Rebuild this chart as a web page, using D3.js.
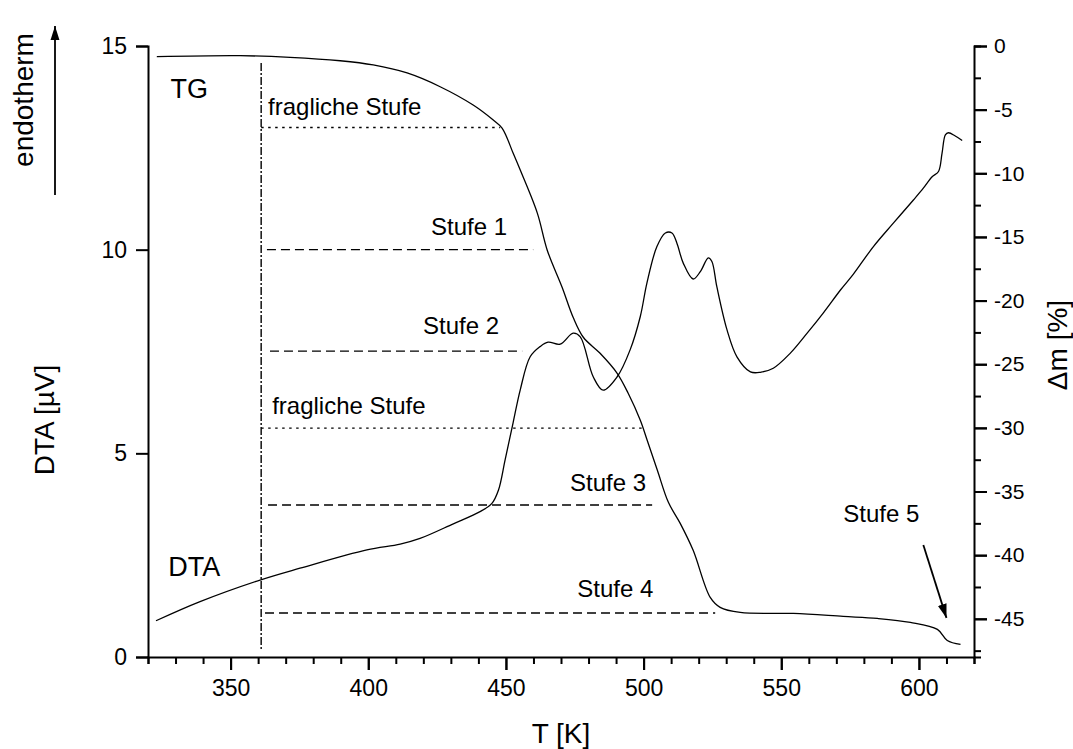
<!DOCTYPE html>
<html><head><meta charset="utf-8">
<script src="https://cdn.jsdelivr.net/npm/d3@7"></script>
<style>
body{margin:0;background:#fff;}
text{font-family:"Liberation Sans",Arial,sans-serif;fill:#000;}
</style></head>
<body><svg id="c" width="1073" height="749"></svg>
<script>
// TG curve: temperature [K] and mass change [%] (right axis)
const tgT = [323.2,353.4,371.6,389.8,401.8,414.1,426.1,438.1,445.4,448.6,452.6,455.2,461.4,465.0,470.4,474.4,478.1,484.2,490.4,494.4,498.8,501.3,505.0,509.0,513.3,518.0,524.2,527.8,535.1,554.4,572.5,584.9,596.9,606.7,610.3,615.1];
const tgM = [-0.84,-0.76,-0.89,-1.16,-1.49,-2.12,-3.20,-4.64,-5.82,-6.45,-8.41,-9.75,-13.13,-16.04,-18.95,-21.31,-22.88,-24.14,-25.71,-27.28,-29.40,-30.97,-33.33,-35.85,-37.50,-39.62,-43.32,-44.10,-44.50,-44.58,-44.81,-44.97,-45.28,-45.83,-46.70,-47.01];
// DTA curve: temperature [K] and signal [µV] (left axis)
const dtaT = [322.9,338.9,360.7,375.2,399.5,411.6,418.8,430.9,440.6,444.9,447.3,449.7,452.6,455.2,458.8,462.4,465.3,469.7,474.4,477.0,481.7,485.3,490.4,495.1,498.8,501.2,504.8,507.9,510.3,512.1,514.4,518.0,520.6,523.5,524.8,526.6,530.3,533.9,538.8,542.4,547.1,553.3,559.4,565.3,571.5,576.2,583.4,590.7,598.0,601.6,604.8,607.1,608.4,609.6,610.7,613.2,615.7];
const dtaV = [0.89,1.36,1.89,2.18,2.63,2.77,2.91,3.27,3.57,3.77,4.10,4.84,5.75,6.56,7.37,7.62,7.73,7.68,7.95,7.86,6.88,6.55,6.88,7.54,8.36,9.18,10.07,10.41,10.41,10.16,9.67,9.28,9.46,9.80,9.71,9.09,8.03,7.37,7.00,6.99,7.09,7.46,7.95,8.45,9.01,9.40,10.07,10.65,11.22,11.51,11.79,11.92,12.37,12.82,12.87,12.79,12.68];
// step reference lines (left-axis units)
const stepLevel = [13.0, 10.0, 7.51, 5.62, 3.73, 1.08];
const stepStart = [361.1, 363.2, 364.3, 361.1, 363.6, 362.5];
const stepEnd   = [447.9, 459.9, 455.9, 499.5, 503.1, 526.0];
const stepStyle = ["dot","dash","dash","dot","dash","dash"];
// annotation labels (T, left-axis value)
const labelText = ["TG","fragliche Stufe","Stufe 1","Stufe 2","fragliche Stufe","Stufe 3","Stufe 4","Stufe 5","DTA"];
const labelT    = [328.2, 363.6, 422.8, 419.9, 365.1, 473.3, 475.9, 572.5, 327.4];
const labelV    = [13.72, 13.31, 10.36, 7.93, 5.97, 4.08, 1.47, 3.31, 1.99];
const labelSize = [27,24,24,24,24,24,24,24,27];
// vertical marker and arrow
const markerT = 361.1, markerV = [0.15, 14.58];
const arrowT = [601.6, 610.0], arrowV = [2.75, 0.96];
// ticks
const xMajor = [350,400,450,500,550,600];
const yLeftTicks = [0,5,10,15];
const yRightMajor = [0,-5,-10,-15,-20,-25,-30,-35,-40,-45];

const svg = d3.select("#c");
const x = d3.scaleLinear().domain([320,620]).range([148,974]);
const yL = d3.scaleLinear().domain([0,15]).range([657,46]);
const yR = d3.scaleLinear().domain([-48,0]).range([657,46]);

svg.append("defs").append("marker").attr("id","ah").attr("viewBox","0 0 10 10")
  .attr("refX",10).attr("refY",5).attr("markerWidth",14).attr("markerHeight",14)
  .attr("markerUnits","userSpaceOnUse").attr("orient","auto")
  .append("path").attr("d","M0,1.8L10,5L0,8.2Z").attr("fill","#000");

// Axes
const font = '"Liberation Sans",Arial,sans-serif';
const bx = svg.append("g").attr("transform","translate(0,657)")
  .call(d3.axisBottom(x).tickValues(d3.range(320,621,10)).tickSize(7).tickFormat(""));
bx.selectAll(".tick line").filter(d=>d%50===0).attr("y2",13);
svg.append("g").attr("transform","translate(0,657)")
  .call(d3.axisBottom(x).tickValues(xMajor).tickSize(13).tickPadding(10).tickFormat(d3.format("d")))
  .call(g=>g.select(".domain").remove())
  .selectAll("text").attr("font-size",23).attr("font-family",font);

svg.append("g").attr("transform","translate(148,0)")
  .call(d3.axisLeft(yL).tickValues(yLeftTicks).tickSize(12).tickPadding(9).tickFormat(d3.format("d")))
  .selectAll("text").attr("font-size",23).attr("font-family",font);

svg.append("g").attr("transform","translate(974,0)")
  .call(d3.axisRight(yR).tickValues(d3.range(0,-48.1,-2.5)).tickSize(7).tickFormat(""))
  .selectAll(".tick line").filter(d=>d%5===0).attr("x2",13);
svg.append("g").attr("transform","translate(974,0)")
  .call(d3.axisRight(yR).tickValues(yRightMajor).tickSize(13).tickPadding(7).tickFormat(d=>d===0?"0":"-"+Math.abs(d)))
  .call(g=>g.select(".domain").remove())
  .selectAll("text").attr("font-size",21).attr("font-family",font);

svg.selectAll(".domain, .tick line").attr("stroke","#000").attr("stroke-width",2);

// Reference lines
const dashes = {dot:"2.5,4.5", dash:"9,5"};
stepLevel.forEach((v,i)=>{
  svg.append("line").attr("x1",x(stepStart[i])).attr("x2",x(stepEnd[i]))
    .attr("y1",yL(v)).attr("y2",yL(v)).attr("stroke","#000").attr("stroke-width",1.4)
    .attr("stroke-dasharray",dashes[stepStyle[i]]);
});
svg.append("line").attr("x1",x(markerT)).attr("x2",x(markerT))
  .attr("y1",yL(markerV[1])).attr("y2",yL(markerV[0]))
  .attr("stroke","#000").attr("stroke-width",1.4).attr("stroke-dasharray","8,2,2,2");

// Curves
const lineTG = d3.line().x(d=>x(d[0])).y(d=>yR(d[1])).curve(d3.curveCatmullRom.alpha(0.5));
const lineDTA = d3.line().x(d=>x(d[0])).y(d=>yL(d[1])).curve(d3.curveCatmullRom.alpha(0.5));
svg.append("path").datum(d3.zip(tgT,tgM)).attr("d",lineTG)
  .attr("fill","none").attr("stroke","#000").attr("stroke-width",1.3);
svg.append("path").datum(d3.zip(dtaT,dtaV)).attr("d",lineDTA)
  .attr("fill","none").attr("stroke","#000").attr("stroke-width",1.3);

// Arrow for Stufe 5
svg.append("line").attr("x1",x(arrowT[0])).attr("y1",yL(arrowV[0]))
  .attr("x2",x(arrowT[1])).attr("y2",yL(arrowV[1]))
  .attr("stroke","#000").attr("stroke-width",1.8).attr("marker-end","url(#ah)");

// Labels
labelText.forEach((t,i)=>{
  svg.append("text").attr("x",x(labelT[i])).attr("y",yL(labelV[i]))
    .attr("font-size",labelSize[i]).text(t);
});

// Axis titles
svg.append("text").attr("x",561).attr("y",743).attr("text-anchor","middle")
  .attr("font-size",28).text("T [K]");
svg.append("text").attr("transform","translate(54,420) rotate(-90)").attr("text-anchor","middle")
  .attr("font-size",28).text("DTA [µV]");
svg.append("text").attr("transform","translate(1067,345) rotate(-90)").attr("text-anchor","middle")
  .attr("font-size",28).text("Δm [%]");
svg.append("text").attr("transform","translate(33,100) rotate(-90)").attr("text-anchor","middle")
  .attr("font-size",28).text("endotherm");
svg.append("line").attr("x1",55).attr("x2",55).attr("y1",195).attr("y2",26)
  .attr("stroke","#000").attr("stroke-width",1.8).attr("marker-end","url(#ah)");
</script></body></html>
